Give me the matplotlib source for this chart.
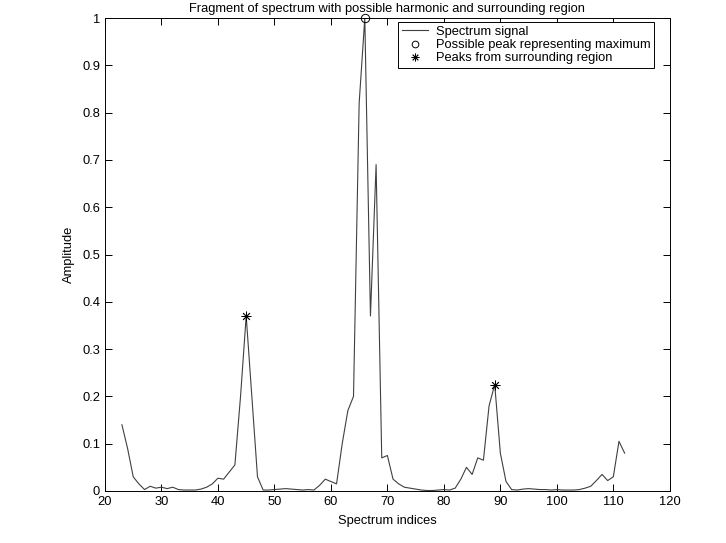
import matplotlib
matplotlib.use("Agg")
import matplotlib.pyplot as plt

# spectrum fragment, indices 23..112
indices = list(range(23, 113))
amplitude = [
    0.140, 0.090, 0.030, 0.015, 0.003, 0.010, 0.006, 0.008, 0.005, 0.008,   # 23-32
    0.003, 0.002, 0.002, 0.002, 0.004, 0.008, 0.015, 0.027, 0.025, 0.040,   # 33-42
    0.055, 0.200, 0.370, 0.200, 0.030, 0.002, 0.002, 0.003, 0.004, 0.005,   # 43-52
    0.004, 0.003, 0.002, 0.003, 0.002, 0.012, 0.025, 0.020, 0.015, 0.100,   # 53-62
    0.170, 0.200, 0.820, 1.000, 0.370, 0.690, 0.070, 0.075, 0.025, 0.015,   # 63-72
    0.008, 0.006, 0.004, 0.002, 0.001, 0.001, 0.002, 0.003, 0.002, 0.006,   # 73-82
    0.025, 0.050, 0.035, 0.070, 0.065, 0.180, 0.225, 0.080, 0.020, 0.003,   # 83-92
    0.002, 0.004, 0.005, 0.004, 0.003, 0.003, 0.002, 0.003, 0.002, 0.002,   # 93-102
    0.002, 0.003, 0.006, 0.010, 0.022, 0.035, 0.022, 0.030, 0.105, 0.080,   # 103-112
]

max_idx = [66]
max_val = [1.0]
side_idx = [45, 89]
side_val = [0.370, 0.225]

xticks = list(range(20, 121, 10))
yticks = [0, 0.1, 0.2, 0.3, 0.4, 0.5, 0.6, 0.7, 0.8, 0.9, 1]
ytick_labels = ["0", "0.1", "0.2", "0.3", "0.4", "0.5", "0.6", "0.7", "0.8", "0.9", "1"]

plt.rcParams['font.family'] = ['Liberation Sans', 'DejaVu Sans']
plt.rcParams['font.size'] = 9.3

fig = plt.figure(figsize=(7.26, 5.43), dpi=100)
ax = fig.add_axes([0.1446, 0.0958, 0.778, 0.871])

ax.plot(indices, amplitude, color='#404040', lw=0.8, label='Spectrum signal')
ax.plot(max_idx, max_val, 'o', mfc='none', mec='black', ms=6, mew=0.7,
        label='Possible peak representing maximum', clip_on=False)
# matlab style asterisk
ax.plot(side_idx, side_val, marker=(8, 2, 0), ls='none', color='black', ms=7, mew=0.6,
        label='Peaks from surrounding region')

ax.set_xlim(20, 120)
ax.set_ylim(0, 1)
ax.set_xticks(xticks)
ax.set_yticks(yticks)
ax.set_yticklabels(ytick_labels)
ax.tick_params(direction='in', top=True, right=True, length=5, width=0.7)
for s in ax.spines.values():
    s.set_linewidth(0.7)

ax.set_title('Fragment of spectrum with possible harmonic and surrounding region',
             fontsize=9.3, pad=4)
ax.set_xlabel('Spectrum indices', labelpad=5)
ax.set_ylabel('Amplitude', labelpad=5)

leg = ax.legend(loc='upper right', bbox_to_anchor=(0.9725, 0.992), fancybox=False,
                edgecolor='black', framealpha=1, borderpad=0.3, labelspacing=0.1,
                handlelength=2.0, handletextpad=0.6, borderaxespad=0, markerscale=0.8)
leg.get_frame().set_linewidth(0.7)

fig.savefig('out.png', dpi=100, facecolor='white')
